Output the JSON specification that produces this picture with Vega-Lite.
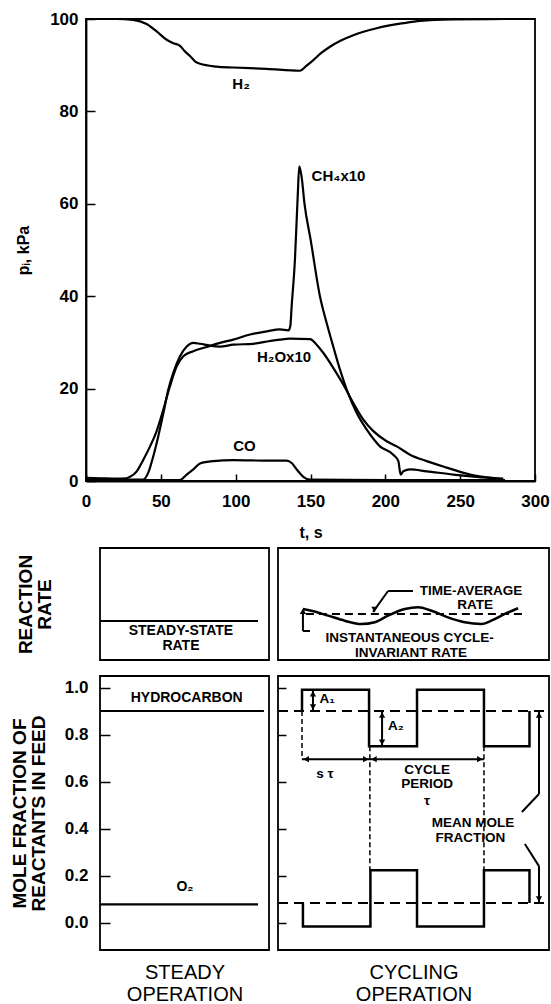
{
 "$schema": "https://vega.github.io/schema/vega-lite/v6.json",
 "autosize": {"type": "none"},
 "padding": {"left": 86, "top": 19, "right": 465, "bottom": 985},
 "background": "white",
 "config": {
  "font": "Liberation Sans",
  "view": {"stroke": "black", "strokeWidth": 1.8},
  "axis": {"grid": false, "domainColor": "black", "domainWidth": 1.8, "tickColor": "black", "tickWidth": 1.5, "labelColor": "black", "titleColor": "black", "labelFont": "Liberation Sans", "titleFont": "Liberation Sans", "labelFontWeight": "bold", "titleFontWeight": "bold", "labelFlush": false, "labelOverlap": false},
  "text": {"font": "Liberation Sans", "fontWeight": "bold", "color": "black"},
  "line": {"color": "black"},
  "rule": {"color": "black"},
  "point": {"color": "black", "filled": true, "opacity": 1}
 },
 "datasets": {
  "pressure": [
   {"s":"H2","t":0,"p":100},{"s":"H2","t":20,"p":100},{"s":"H2","t":31.6,"p":99.8},{"s":"H2","t":40.5,"p":98.9},{"s":"H2","t":47.2,"p":97.3},{"s":"H2","t":53.9,"p":95.5},{"s":"H2","t":58,"p":94.8},{"s":"H2","t":62.8,"p":94.2},{"s":"H2","t":66,"p":93},{"s":"H2","t":69.5,"p":92},{"s":"H2","t":73,"p":90.8},{"s":"H2","t":76.2,"p":90.3},{"s":"H2","t":87.3,"p":89.7},{"s":"H2","t":98.4,"p":89.5},{"s":"H2","t":120.7,"p":89.2},{"s":"H2","t":143,"p":88.8},{"s":"H2","t":147,"p":89.8},{"s":"H2","t":151.9,"p":91.1},{"s":"H2","t":157,"p":92.6},{"s":"H2","t":163,"p":94},{"s":"H2","t":170,"p":95.3},{"s":"H2","t":178.6,"p":96.5},{"s":"H2","t":194.2,"p":98},{"s":"H2","t":212,"p":99.1},{"s":"H2","t":223.2,"p":99.6},{"s":"H2","t":245.4,"p":99.9},{"s":"H2","t":280,"p":100},
   {"s":"CH4","t":0,"p":0.7},{"s":"CH4","t":10,"p":0.6},{"s":"CH4","t":20,"p":0.5},{"s":"CH4","t":27,"p":0.6},{"s":"CH4","t":29.4,"p":0.9},{"s":"CH4","t":33.9,"p":2.1},{"s":"CH4","t":38.3,"p":4.6},{"s":"CH4","t":42.8,"p":7.5},{"s":"CH4","t":47.2,"p":10.8},{"s":"CH4","t":51.7,"p":15.5},{"s":"CH4","t":56.1,"p":20.5},{"s":"CH4","t":60.6,"p":24.8},{"s":"CH4","t":65,"p":27},{"s":"CH4","t":71.7,"p":28.1},{"s":"CH4","t":80.6,"p":29},{"s":"CH4","t":89.5,"p":29.9},{"s":"CH4","t":98.4,"p":30.6},{"s":"CH4","t":109.6,"p":31.7},{"s":"CH4","t":120.8,"p":32.4},{"s":"CH4","t":129.6,"p":32.8},{"s":"CH4","t":135.2,"p":32.6},{"s":"CH4","t":136.5,"p":33.5},{"s":"CH4","t":137.4,"p":37.8},{"s":"CH4","t":139.6,"p":47.9},{"s":"CH4","t":141.5,"p":62},{"s":"CH4","t":142.5,"p":68.1},{"s":"CH4","t":144,"p":66},{"s":"CH4","t":146,"p":60},{"s":"CH4","t":150.1,"p":52.2},{"s":"CH4","t":156.3,"p":40},{"s":"CH4","t":160.8,"p":34.2},{"s":"CH4","t":165.2,"p":29.1},{"s":"CH4","t":169.7,"p":24.1},{"s":"CH4","t":174.2,"p":19.8},{"s":"CH4","t":180.9,"p":14.7},{"s":"CH4","t":187.6,"p":11.1},{"s":"CH4","t":196.4,"p":7.5},{"s":"CH4","t":205.3,"p":5.7},{"s":"CH4","t":208.7,"p":4.3},{"s":"CH4","t":210.2,"p":1.4},{"s":"CH4","t":212,"p":2.1},{"s":"CH4","t":216.5,"p":2.5},{"s":"CH4","t":227.6,"p":2.1},{"s":"CH4","t":245.4,"p":1.4},{"s":"CH4","t":261,"p":0.9},{"s":"CH4","t":278.8,"p":0.5},
   {"s":"H2O","t":0,"p":0.3},{"s":"H2O","t":20,"p":0.3},{"s":"H2O","t":38.3,"p":0.3},{"s":"H2O","t":41.6,"p":1.8},{"s":"H2O","t":45,"p":5.4},{"s":"H2O","t":48.3,"p":9.7},{"s":"H2O","t":51.7,"p":14.7},{"s":"H2O","t":55,"p":19.8},{"s":"H2O","t":58.3,"p":23.4},{"s":"H2O","t":62.8,"p":27},{"s":"H2O","t":67.3,"p":29.1},{"s":"H2O","t":71.7,"p":29.9},{"s":"H2O","t":76.2,"p":29.7},{"s":"H2O","t":82.8,"p":29.3},{"s":"H2O","t":89.5,"p":29.1},{"s":"H2O","t":98.4,"p":29.5},{"s":"H2O","t":111.8,"p":29.7},{"s":"H2O","t":122.9,"p":30.3},{"s":"H2O","t":129.6,"p":30.6},{"s":"H2O","t":136.3,"p":30.8},{"s":"H2O","t":149.7,"p":30.7},{"s":"H2O","t":154.1,"p":29.5},{"s":"H2O","t":158.6,"p":27.7},{"s":"H2O","t":165.2,"p":24.5},{"s":"H2O","t":171.9,"p":20.9},{"s":"H2O","t":178.6,"p":16.9},{"s":"H2O","t":185.3,"p":13.3},{"s":"H2O","t":192,"p":10.8},{"s":"H2O","t":200.9,"p":8.6},{"s":"H2O","t":207.6,"p":7.5},{"s":"H2O","t":216.5,"p":5.7},{"s":"H2O","t":227.6,"p":4.3},{"s":"H2O","t":241,"p":2.9},{"s":"H2O","t":256.6,"p":1.4},{"s":"H2O","t":274.4,"p":0.5},
   {"s":"CO","t":0,"p":0.2},{"s":"CO","t":30,"p":0.2},{"s":"CO","t":62.8,"p":0.2},{"s":"CO","t":67.3,"p":1.4},{"s":"CO","t":71.7,"p":2.5},{"s":"CO","t":76.2,"p":3.8},{"s":"CO","t":85.1,"p":4.3},{"s":"CO","t":98.4,"p":4.5},{"s":"CO","t":122.9,"p":4.4},{"s":"CO","t":134.1,"p":4.4},{"s":"CO","t":137.4,"p":3.9},{"s":"CO","t":140.8,"p":2.5},{"s":"CO","t":145.2,"p":0.9},{"s":"CO","t":149.7,"p":0.3},{"s":"CO","t":200,"p":0.2},{"s":"CO","t":280,"p":0.2}
  ],
  "toplabels": [
   {"t":103.6,"p":86,"label":"H₂"},
   {"t":168.7,"p":66,"label":"CH₄x10"},
   {"t":132.3,"p":26.9,"label":"H₂Ox10"},
   {"t":105.9,"p":7.6,"label":"CO"}
  ],
  "rateSteadyLine": [{"u":0,"v":34.8},{"u":93.5,"v":34.8}],
  "rateSteadyText": [{"u":47.9,"v":25.5,"label":"STEADY-STATE"},{"u":47.9,"v":12.5,"label":"RATE"}],
  "rateWave": [
   {"u":9.2,"v":45.5},{"u":12.3,"v":44},{"u":18.5,"v":39.6},{"u":24.6,"v":35.1},{"u":30.7,"v":32.1},{"u":35.7,"v":33.7},{"u":40.6,"v":39.6},{"u":46.8,"v":45.5},{"u":51.7,"v":47.1},{"u":56.6,"v":44},{"u":62.7,"v":38.1},{"u":68.9,"v":33.7},{"u":75,"v":32.1},{"u":78.7,"v":35.1},{"u":83.7,"v":41.1},{"u":88.6,"v":46.2}
  ],
  "rateDash": [{"u":10.3,"v":41.1},{"u":91.5,"v":41.1}],
  "rateLeaders": [
   {"u":40.6,"v":61.6,"u2":49.8,"v2":61.6},
   {"u":40.6,"v":61.6,"u2":35.1,"v2":42.9},
   {"u":9.2,"v":42.9,"u2":9.2,"v2":25.9},
   {"u":9.2,"v":25.9,"u2":11.8,"v2":25.9}
  ],
  "rateHeads": [{"u":9.2,"v":43.5,"dir":"up"},{"u":35.6,"v":45,"dir":"down"}],
  "rateCycText": [
   {"u":71.2,"v":62,"label":"TIME-AVERAGE"},
   {"u":72.7,"v":49.2,"label":"RATE"},
   {"u":48.6,"v":19.2,"label":"INSTANTANEOUS CYCLE-"},
   {"u":49.1,"v":6.4,"label":"INVARIANT RATE"}
  ],
  "moleSteadyLines": [
   {"s":"HC","u":0,"v":0.9},{"s":"HC","u":97,"v":0.9},
   {"s":"O2","u":0,"v":0.077},{"s":"O2","u":93.5,"v":0.077}
  ],
  "moleSteadyText": [{"u":51.3,"v":0.955,"label":"HYDROCARBON"},{"u":50.3,"v":0.151,"label":"O₂"}],
  "moleWaves": [
   {"s":"HC","i":1,"u":8.86,"v":0.9},{"s":"HC","i":2,"u":8.86,"v":0.99},{"s":"HC","i":3,"u":33.6,"v":0.99},{"s":"HC","i":4,"u":33.6,"v":0.75},{"s":"HC","i":5,"u":51.3,"v":0.75},{"s":"HC","i":6,"u":51.3,"v":0.99},{"s":"HC","i":7,"u":76,"v":0.99},{"s":"HC","i":8,"u":76,"v":0.75},{"s":"HC","i":9,"u":92.8,"v":0.75},{"s":"HC","i":10,"u":92.8,"v":0.9},
   {"s":"O2","i":1,"u":9.2,"v":0.083},{"s":"O2","i":2,"u":9.2,"v":-0.017},{"s":"O2","i":3,"u":34.1,"v":-0.017},{"s":"O2","i":4,"u":34.1,"v":0.222},{"s":"O2","i":5,"u":51.3,"v":0.222},{"s":"O2","i":6,"u":51.3,"v":-0.017},{"s":"O2","i":7,"u":76,"v":-0.017},{"s":"O2","i":8,"u":76,"v":0.222},{"s":"O2","i":9,"u":92.8,"v":0.222},{"s":"O2","i":10,"u":92.8,"v":0.083}
  ],
  "moleMeans": [
   {"u":0,"v":0.9,"u2":100,"v2":0.9},
   {"u":0,"v":0.083,"u2":100,"v2":0.083}
  ],
  "moleGuides": [
   {"u":8.86,"v":0.9,"u2":8.86,"v2":0.695},
   {"u":33.9,"v":0.75,"u2":33.9,"v2":0.222},
   {"u":76,"v":0.75,"u2":76,"v2":0.222}
  ],
  "moleArrows": [
   {"u":8.86,"v":0.695,"u2":76,"v2":0.695},
   {"u":12.9,"v":0.99,"u2":12.9,"v2":0.9},
   {"u":38.4,"v":0.9,"u2":38.4,"v2":0.75},
   {"u":96.3,"v":0.9,"u2":96.3,"v2":0.547},
   {"u":96.3,"v":0.547,"u2":90,"v2":0.47},
   {"u":91.1,"v":0.334,"u2":96.3,"v2":0.24},
   {"u":96.3,"v":0.24,"u2":96.3,"v2":0.083}
  ],
  "moleHeads": [
   {"u":10.4,"v":0.695,"dir":"left"},{"u":32.4,"v":0.695,"dir":"right"},{"u":35.4,"v":0.695,"dir":"left"},{"u":74.5,"v":0.695,"dir":"right"},
   {"u":12.9,"v":0.973,"dir":"up"},{"u":12.9,"v":0.917,"dir":"down"},
   {"u":38.4,"v":0.883,"dir":"up"},{"u":38.4,"v":0.767,"dir":"down"},
   {"u":96.3,"v":0.883,"dir":"up"},{"u":96.3,"v":0.1,"dir":"down"}
  ],
  "moleCycText": [
   {"u":18.1,"v":0.951,"label":"A₁"},
   {"u":43.5,"v":0.836,"label":"A₂"},
   {"u":17.3,"v":0.632,"label":"s τ"},
   {"u":55,"v":0.651,"label":"CYCLE"},
   {"u":55,"v":0.588,"label":"PERIOD"},
   {"u":55,"v":0.517,"label":"τ"},
   {"u":72,"v":0.423,"label":"MEAN MOLE"},
   {"u":71,"v":0.361,"label":"FRACTION"}
  ]
 },
 "spacing": 67,
 "bounds": "flush",
 "vconcat": [
  {
   "width": 449, "height": 462,
   "layer": [
    {"data": {"name": "pressure"},
     "mark": {"type": "line", "strokeWidth": 2.2, "interpolate": "monotone"},
     "encoding": {
      "x": {"field": "t", "type": "quantitative", "scale": {"domain": [0, 300], "nice": false},
            "axis": {"title": "t, s", "values": [0,50,100,150,200,250,300], "tickSize": -7, "labelPadding": 19, "labelFontSize": 17, "titleFontSize": 16, "titlePadding": 15}},
      "y": {"field": "p", "type": "quantitative", "scale": {"domain": [0, 100], "nice": false},
            "axis": {"title": "pᵢ, kPa", "values": [0,20,40,60,80,100], "tickSize": -9, "labelPadding": 17, "labelFontSize": 17, "titleFontSize": 16, "titlePadding": 18}},
      "detail": {"field": "s", "type": "nominal"}
     }},
    {"data": {"name": "toplabels"},
     "mark": {"type": "text", "fontSize": 15},
     "encoding": {
      "x": {"field": "t", "type": "quantitative"},
      "y": {"field": "p", "type": "quantitative"},
      "text": {"field": "label"}
     }}
   ]
  },
  {
   "columns": 3,
   "spacing": {"row": 16, "column": 9},
   "bounds": "flush",
   "align": "each",
   "concat": [
    {"width": 5, "height": 112, "data": {"values": [{"a": 1}]}, "mark": {"type": "point", "opacity": 0}, "encoding": {}, "view": {"stroke": null}},
    {
     "width": 169, "height": 112,
     "layer": [
      {"data": {"name": "rateSteadyLine"},
       "mark": {"type": "line", "strokeWidth": 2.2},
       "encoding": {
        "x": {"field": "u", "type": "quantitative", "scale": {"domain": [0, 100], "nice": false}, "axis": null},
        "y": {"field": "v", "type": "quantitative", "scale": {"domain": [0, 100], "nice": false},
              "axis": {"title": ["REACTION", "RATE"], "labels": false, "ticks": false, "domain": false, "titleFontSize": 19, "titleLineHeight": 19, "titlePadding": 46}}
       }},
      {"data": {"name": "rateSteadyText"},
       "mark": {"type": "text", "fontSize": 14},
       "encoding": {"x": {"field": "u", "type": "quantitative"}, "y": {"field": "v", "type": "quantitative"}, "text": {"field": "label"}}}
     ]
    },
    {
     "width": 271, "height": 112,
     "layer": [
      {"data": {"name": "rateWave"},
       "mark": {"type": "line", "strokeWidth": 2.5, "interpolate": "monotone"},
       "encoding": {
        "x": {"field": "u", "type": "quantitative", "scale": {"domain": [0, 100], "nice": false}, "axis": null},
        "y": {"field": "v", "type": "quantitative", "scale": {"domain": [0, 100], "nice": false}, "axis": null}
       }},
      {"data": {"name": "rateDash"},
       "mark": {"type": "line", "strokeWidth": 2, "strokeDash": [8, 5]},
       "encoding": {"x": {"field": "u", "type": "quantitative"}, "y": {"field": "v", "type": "quantitative"}}},
      {"data": {"name": "rateLeaders"},
       "mark": {"type": "rule", "strokeWidth": 2},
       "encoding": {"x": {"field": "u", "type": "quantitative"}, "y": {"field": "v", "type": "quantitative"}, "x2": {"field": "u2"}, "y2": {"field": "v2"}}},
      {"data": {"name": "rateHeads"},
       "mark": {"type": "point", "size": 40},
       "encoding": {"x": {"field": "u", "type": "quantitative"}, "y": {"field": "v", "type": "quantitative"},
        "shape": {"field": "dir", "type": "nominal", "scale": {"domain": ["left","right","up","down"], "range": ["triangle-left","triangle-right","triangle-up","triangle-down"]}, "legend": null}}},
      {"data": {"name": "rateCycText"},
       "mark": {"type": "text", "fontSize": 13.5},
       "encoding": {"x": {"field": "u", "type": "quantitative"}, "y": {"field": "v", "type": "quantitative"}, "text": {"field": "label"}}}
     ]
    },
    {"width": 5, "height": 274, "data": {"values": [{"a": 1}]}, "mark": {"type": "point", "opacity": 0}, "encoding": {}, "view": {"stroke": null}},
    {
     "width": 169, "height": 274,
     "layer": [
      {"data": {"name": "moleSteadyLines"},
       "mark": {"type": "line", "strokeWidth": 2.2},
       "encoding": {
        "x": {"field": "u", "type": "quantitative", "scale": {"domain": [0, 100], "nice": false},
              "axis": {"title": ["STEADY", "OPERATION"], "labels": false, "ticks": false, "domain": false, "titleFontSize": 20, "titleFontWeight": "normal", "titleLineHeight": 22, "titlePadding": 12}},
        "y": {"field": "v", "type": "quantitative", "scale": {"domain": [-0.117, 1.049], "nice": false, "zero": false},
              "axis": {"title": ["MOLE  FRACTION  OF", "REACTANTS  IN  FEED"], "values": [0,0.2,0.4,0.6,0.8,1], "format": ".1f", "tickSize": -10, "labelPadding": 22, "labelFontSize": 17, "domain": false, "titleFontSize": 19, "titleLineHeight": 19, "titlePadding": 16}},
        "detail": {"field": "s", "type": "nominal"}
       }},
      {"data": {"name": "moleSteadyText"},
       "mark": {"type": "text", "fontSize": 14},
       "encoding": {"x": {"field": "u", "type": "quantitative"}, "y": {"field": "v", "type": "quantitative"}, "text": {"field": "label"}}}
     ]
    },
    {
     "width": 271, "height": 274,
     "layer": [
      {"data": {"name": "moleMeans"},
       "mark": {"type": "rule", "strokeWidth": 2, "strokeDash": [10, 6]},
       "encoding": {
        "x": {"field": "u", "type": "quantitative", "scale": {"domain": [0, 100], "nice": false},
              "axis": {"title": ["CYCLING", "OPERATION"], "labels": false, "ticks": false, "domain": false, "titleFontSize": 20, "titleFontWeight": "normal", "titleLineHeight": 22, "titlePadding": 12}},
        "y": {"field": "v", "type": "quantitative", "scale": {"domain": [-0.117, 1.049], "nice": false, "zero": false},
              "axis": {"title": null, "values": [0,0.2,0.4,0.6,0.8,1], "labels": false, "tickSize": -8, "domain": false}},
        "x2": {"field": "u2"}, "y2": {"field": "v2"}
       }},
      {"data": {"name": "moleGuides"},
       "mark": {"type": "rule", "strokeWidth": 1.5, "strokeDash": [5, 3]},
       "encoding": {"x": {"field": "u", "type": "quantitative"}, "y": {"field": "v", "type": "quantitative"}, "x2": {"field": "u2"}, "y2": {"field": "v2"}}},
      {"data": {"name": "moleWaves"},
       "mark": {"type": "line", "strokeWidth": 2.5},
       "encoding": {"x": {"field": "u", "type": "quantitative"}, "y": {"field": "v", "type": "quantitative"}, "detail": {"field": "s", "type": "nominal"}, "order": {"field": "i", "type": "quantitative"}}},
      {"data": {"name": "moleArrows"},
       "mark": {"type": "rule", "strokeWidth": 2},
       "encoding": {"x": {"field": "u", "type": "quantitative"}, "y": {"field": "v", "type": "quantitative"}, "x2": {"field": "u2"}, "y2": {"field": "v2"}}},
      {"data": {"name": "moleHeads"},
       "mark": {"type": "point", "size": 40},
       "encoding": {"x": {"field": "u", "type": "quantitative"}, "y": {"field": "v", "type": "quantitative"},
        "shape": {"field": "dir", "type": "nominal", "scale": {"domain": ["left","right","up","down"], "range": ["triangle-left","triangle-right","triangle-up","triangle-down"]}, "legend": null}}},
      {"data": {"name": "moleCycText"},
       "mark": {"type": "text", "fontSize": 13.5},
       "encoding": {"x": {"field": "u", "type": "quantitative"}, "y": {"field": "v", "type": "quantitative"}, "text": {"field": "label"}}}
     ]
    }
   ]
  }
 ]
}
